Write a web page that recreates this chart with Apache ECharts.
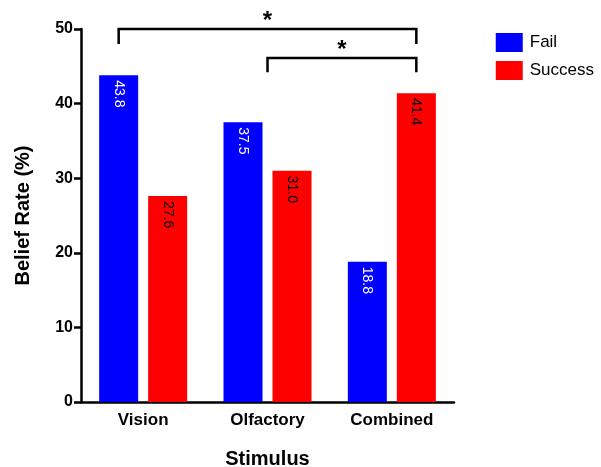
<!DOCTYPE html>
<html>
<head>
<meta charset="utf-8">
<script src="https://cdn.jsdelivr.net/npm/echarts@6/dist/echarts.min.js"></script>
<style>
  html, body { margin: 0; padding: 0; background: #fff; }
  #chart { width: 601px; height: 467px; }
</style>
</head>
<body>
<div id="chart"></div>
<script>
const categories = ['Vision', 'Olfactory', 'Combined'];
const failValues = [43.8, 37.5, 18.8];
const successValues = [27.6, 31.0, 41.4];
const yTicks = [0, 10, 20, 30, 40, 50];

// Significance brackets: [from category, from side, to category, to side, bar level, leg end]
// side: -1 = Fail bar, 0 = category centre, 1 = Success bar
const brackets = [
  [0, -1, 2, 1, 50, 48],
  [1, 0, 2, 1, 46.1, 44.2]
];
const bracketMarks = ['*', '*'];

const FONT = '"Liberation Sans", Arial, sans-serif';
const BAR_W = 39;
const BAR_GAP = 10;

const chart = echarts.init(document.getElementById('chart'));

chart.setOption({
  animation: false,
  grid: { left: 81, right: 147, top: 29, bottom: 65, outerBoundsMode: 'none', containLabel: false },
  legend: {
    right: 2, top: 28, orient: 'vertical',
    itemWidth: 27, itemHeight: 19, itemGap: 9,
    icon: 'rect',
    textStyle: { fontFamily: FONT, fontSize: 17, color: '#000', padding: [0, 0, 0, 2] },
    data: ['Fail', 'Success']
  },
  xAxis: {
    type: 'category',
    data: categories,
    name: 'Stimulus',
    nameLocation: 'middle',
    nameGap: 47,
    nameTextStyle: { fontFamily: FONT, fontSize: 20, fontWeight: 'bold', color: '#000' },
    axisLine: { lineStyle: { color: '#000', width: 2.5 } },
    axisTick: { alignWithLabel: true, length: 6, lineStyle: { color: '#000', width: 2.5 } },
    axisLabel: { fontFamily: FONT, fontSize: 17, fontWeight: 'bold', color: '#000', margin: 10 }
  },
  yAxis: {
    type: 'value',
    min: 0, max: 50, interval: 10,
    name: 'Belief Rate (%)',
    nameLocation: 'middle',
    nameGap: 48,
    nameTextStyle: { fontFamily: FONT, fontSize: 20, fontWeight: 'bold', color: '#000' },
    axisLine: { show: true, lineStyle: { color: '#000', width: 2.5 } },
    axisTick: { show: true, length: 7, lineStyle: { color: '#000', width: 2.5 } },
    axisLabel: {
      fontFamily: FONT, fontSize: 16, fontWeight: 'bold', color: '#000', margin: 8,
      formatter: v => yTicks.includes(v) ? String(v) : ''
    },
    splitLine: { show: false }
  },
  series: [
    {
      name: 'Fail', type: 'bar', data: failValues,
      barWidth: BAR_W, barGap: (BAR_GAP / BAR_W * 100) + '%',
      itemStyle: { color: '#0000ff' },
      label: {
        show: true, position: 'insideTop', rotate: -90, align: 'left', verticalAlign: 'middle',
        distance: 5, color: '#fff', fontFamily: FONT, fontSize: 14,
        formatter: p => p.value.toFixed(1)
      }
    },
    {
      name: 'Success', type: 'bar', data: successValues,
      barWidth: BAR_W,
      itemStyle: { color: '#ff0000' },
      label: {
        show: true, position: 'insideTop', rotate: -90, align: 'left', verticalAlign: 'middle',
        distance: 5, color: '#000', fontFamily: FONT, fontSize: 14,
        formatter: p => p.value.toFixed(1)
      }
    },
    {
      type: 'custom',
      data: brackets.map((b, i) => b.concat([i])),
      silent: true,
      z: 5,
      renderItem: function (params, api) {
        const off = (BAR_W + BAR_GAP) / 2;
        const x1 = api.coord([api.value(0), 0])[0] + api.value(1) * off;
        const x2 = api.coord([api.value(2), 0])[0] + api.value(3) * off;
        const yTop = api.coord([0, api.value(4)])[1];
        const yLeg = api.coord([0, api.value(5)])[1];
        const style = { stroke: '#000', lineWidth: 2.5, fill: null };
        return {
          type: 'group',
          children: [
            { type: 'polyline', shape: { points: [[x1, yLeg], [x1, yTop], [x2, yTop], [x2, yLeg]] }, style: style },
            {
              type: 'text',
              style: {
                text: bracketMarks[api.value(6)], x: (x1 + x2) / 2, y: yTop - 8,
                align: 'center', verticalAlign: 'middle',
                font: 'bold 24px ' + FONT, fill: '#000'
              }
            }
          ]
        };
      }
    }
  ]
});
</script>
</body>
</html>
